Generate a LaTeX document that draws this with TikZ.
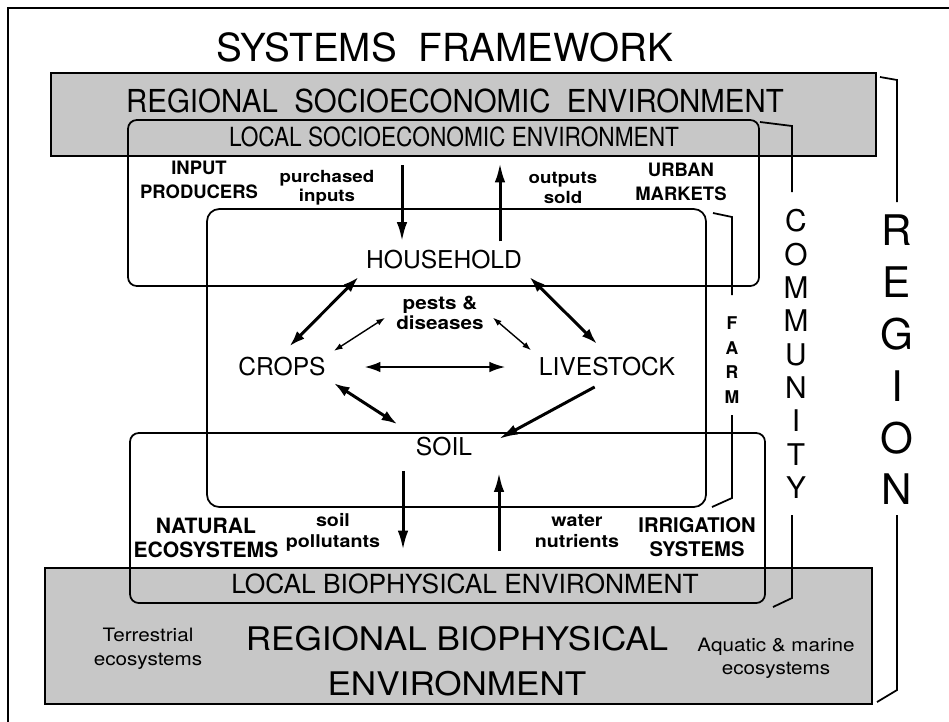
\documentclass[tikz,border=0pt]{standalone}
\usepackage{fontspec}
\setmainfont{TeX Gyre Heros}
\newfontfamily\condfont[FakeStretch=0.86]{TeX Gyre Heros}
\newfontfamily\regfont[FakeStretch=0.93]{TeX Gyre Heros}
\newfontfamily\bigfont[FakeStretch=1.08]{TeX Gyre Heros}
\newfontfamily\widefont[FakeStretch=1.12]{TeX Gyre Heros}
\usetikzlibrary{arrows.meta}

\begin{document}
\begin{tikzpicture}[
	x=0.02cm, y=-0.02cm,
	align=center,
	inner sep=2pt,
	heading/.style={font=\fontsize{22}{26}\selectfont},
	regname/.style={font=\regfont\fontsize{18}{22}\selectfont},
	locname/.style={font=\condfont\fontsize{15}{18}\selectfont},
	bioname/.style={font=\fontsize{15}{18}\selectfont},
	part/.style={font=\fontsize{14}{16}\selectfont},
	actor/.style={font=\bfseries\fontsize{10.5}{13.6}\selectfont},
	flow/.style={font=\widefont\bfseries\fontsize{9.5}{11}\selectfont},
	eco/.style={font=\widefont\fontsize{10.5}{13.5}\selectfont},
	level/.style={font=\fontsize{17}{19}\selectfont},
	shaded/.style={fill=black!22, draw=black, line width=1pt},
	frame/.style={draw=black, line width=1pt},
	bracket/.style={draw=black, line width=1pt},
	line/.style={draw, line width=1.7pt, -{Latex[length=11pt,width=6pt]}},
	both/.style={draw, line width=1.7pt, {Latex[length=9pt,width=6pt]}-{Latex[length=9pt,width=6pt]}},
	thin/.style={draw, line width=0.8pt, {Latex[length=5pt,width=3.5pt]}-{Latex[length=5pt,width=3.5pt]}}
	]
	\useasboundingbox (0,0) rectangle (949,721);
	\draw [line width=1pt] (8,740) -- (8,8) -- (960,8);

	% environment boxes
	\path [shaded] (51,73) rectangle (876,156);
	\path [shaded] (45,568) rectangle (872,704);
	\path [frame, rounded corners=5pt] (128,120) rectangle (759,286);
	\path [frame, rounded corners=5pt] (130,433) rectangle (765,603);
	\path [frame, rounded corners=7pt] (207,209) rectangle (706,507);

	% side brackets
	\path [bracket] (760,122) -- (792,126) -- (792,192);
	\path [bracket] (792,515) -- (792,598) -- (773,607);
	\path [bracket] (880,77) -- (897,80) -- (897,202);
	\path [bracket] (897,515) -- (897,690) -- (877,702);
	\path [bracket] (713,213) -- (732,217) -- (732,295);
	\path [bracket] (732,415) -- (732,498) -- (712,507);

	% labels
	\node at (445, 47) [heading] (title) {SYSTEMS\ \ FRAMEWORK};
	\node at (455, 101) [regname] (regsoc) {REGIONAL\ \ SOCIOECONOMIC\ \ ENVIRONMENT};
	\node at (454, 137) [locname] (locsoc) {LOCAL SOCIOECONOMIC ENVIRONMENT};
	\node at (199, 180) [actor] (inprod) {INPUT\\PRODUCERS};
	\node at (327, 188) [flow] (purch) {purchased\\inputs};
	\node at (563, 188) [flow] (sold) {outputs\\sold};
	\node at (681, 182) [actor] (urban) {URBAN\\MARKETS};

	\node at (444, 260) [part] (hh) {HOUSEHOLD};
	\node at (282, 367) [part] (crops) {CROPS};
	\node at (607, 367) [part] (stock) {LIVESTOCK};
	\node at (444, 447) [part] (soil) {SOIL};
	\node at (440, 313) [flow, font=\widefont\bfseries\fontsize{10.5}{11.5}\selectfont] (pests) {pests \&\\diseases};

	\node at (206, 538) [actor, font=\bfseries\fontsize{12}{13.6}\selectfont] (natural) {NATURAL\\ECOSYSTEMS};
	\node at (333, 532) [flow, font=\widefont\bfseries\fontsize{10}{12}\selectfont] (spoll) {soil\\pollutants};
	\node at (577, 531) [flow, font=\widefont\bfseries\fontsize{10}{12}\selectfont] (water) {water\\nutrients};
	\node at (697, 537) [actor, font=\bfseries\fontsize{11.5}{13.6}\selectfont] (irrig) {IRRIGATION\\SYSTEMS};
	\node at (465, 584) [bioname] (locbio) {LOCAL BIOPHYSICAL ENVIRONMENT};
	\node at (148, 649) [eco] (terr) {Terrestrial\\ecosystems};
	\node at (457, 661) [font=\bigfont\fontsize{18.5}{25.5}\selectfont] (regbio) {REGIONAL BIOPHYSICAL\\ENVIRONMENT};
	\node at (776, 658) [eco, font=\widefont\fontsize{10.5}{13}\selectfont] (aquatic) {Aquatic \& marine\\ecosystems};

	\node at (732, 360) [font=\bfseries\fontsize{10}{14}\selectfont] (farm) {F\\A\\R\\M};
	\node at (796, 354) [level] (community) {C\\O\\M\\M\\U\\N\\I\\T\\Y};
	\node at (897, 360) [font=\fontsize{24}{29.5}\selectfont] (region) {R\\E\\G\\I\\O\\N};

	% flows across the farm boundary
	\coordinate (intop) at (402, 165);
	\coordinate (outtop) at (500, 163);
	\coordinate (pollbot) at (403, 550);
	\coordinate (nutbot) at (499, 551);
	\path [line, shorten >=3pt] (intop) -- (intop |- hh.north);
	\path [line, shorten <=3pt] (outtop |- hh.north) -- (outtop);
	\path [line, shorten <=6pt] (pollbot |- soil.south) -- (pollbot);
	\path [line, shorten >=7pt] (nutbot) -- (nutbot |- soil.south);

	% links inside the farm
	\path [both, shorten <=3pt, shorten >=6pt] (hh.south west) -- (crops.north);
	\path [both, shorten <=3pt, shorten >=8pt] (hh.south east) -- (stock.north);
	\path [both, line width=1.1pt, shorten <=20pt, shorten >=17pt] (crops.east) -- (stock.west);
	\path [both, shorten <=3pt, shorten >=10pt] (crops.south east) -- (soil.north west);
	\path [line, shorten <=8pt] (stock.south) -- ([xshift=13pt, yshift=-3pt]soil.north east);
	\path [thin, shorten <=5pt, shorten >=3pt] (pests.west) -- (crops.north east);
	\path [thin, shorten <=4pt, shorten >=3pt] (pests.east) -- (stock.north west);
\end{tikzpicture}
\end{document}
